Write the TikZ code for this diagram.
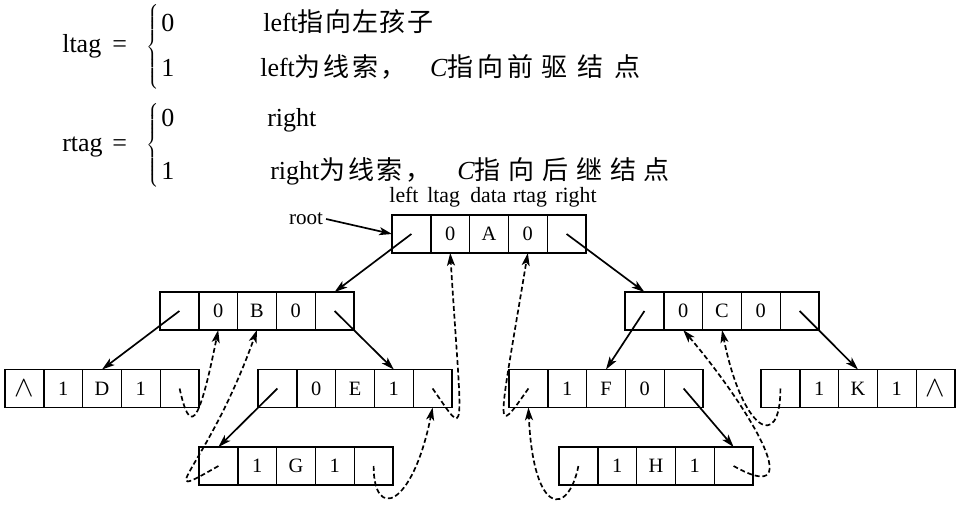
\documentclass[tikz,border=0pt]{standalone}
\usepackage{fontspec}
\setmainfont{Liberation Serif}
\newfontfamily\cjk{Noto Sans CJK SC}
\usetikzlibrary{arrows.meta,positioning}
\tikzset{
  cell/.style={draw, line width=1pt, minimum width=0.97cm, minimum height=0.95cm,
    inner sep=0pt, outer sep=0pt, font=\fontsize{14.5}{16}\selectfont},
  link/.style={-{Stealth[length=3.2mm,width=2mm,inset=0.8mm]}, line width=1.2pt},
  thread/.style={link, dash pattern=on 3.5pt off 2pt},
  formula/.style={inner sep=0pt, anchor=base west, font=\fontsize{18.5}{22}\selectfont},
  header/.style={inner sep=0pt, anchor=base, font=\fontsize{15.5}{18}\selectfont},
  bracebox/.style={inner sep=0pt, font=\fontsize{18.5}{22}\selectfont}
}
% one threaded node = five cells: left, ltag, data, rtag, right
\newcommand{\ThreadNode}[7]{%
  \node[cell, anchor=west] (#1-1) at (#2) {#3};
  \node[cell, right=0pt of #1-1] (#1-2) {#4};
  \node[cell, right=0pt of #1-2] (#1-3) {#5};
  \node[cell, right=0pt of #1-3] (#1-4) {#6};
  \node[cell, right=0pt of #1-4] (#1-5) {#7};
}
\newcommand{\Null}{{\fontsize{22}{24}\selectfont$\wedge$}}
\newcommand{\BigBrace}[1]{$\delimitershortfall=0pt\left\{\vcenter{\hbox{\rule{0pt}{#1}}}\right.$}

\begin{document}
\begin{tikzpicture}[x=1cm,y=1cm]
  \useasboundingbox (0,0) rectangle (24,12.675);

  % tag definitions
  \node[formula] (ltag) at (1.55,11.35) {ltag};
  \node[formula] (ltag-eq) at (2.8,11.35) {=};
  \node[bracebox] (ltag-brace) at (3.83,11.5) {\BigBrace{1.9cm}};
  \node[formula] (ltag-0) at (4.03,11.875) {0};
  \node[formula] (ltag-1) at (4.03,10.75) {1};
  \node[formula] (ltag-0t) at (6.575,11.875) {left{\cjk 指\hspace{0.05em}向\hspace{0.05em}左\hspace{0.05em}孩\hspace{0.05em}子}};
  \node[formula] (ltag-1t) at (6.5,10.75) {left{\cjk 为\hspace{0.1em}线\hspace{0.1em}索\hspace{0.1em}，}\hspace{0.9em}\textit{C}{\cjk 指\hspace{0.15em}向\hspace{0.15em}前\hspace{0.3em}驱\hspace{0.4em}结\hspace{0.4em}点}};

  \node[formula] (rtag) at (1.55,8.875) {rtag};
  \node[formula] (rtag-eq) at (2.8,8.875) {=};
  \node[bracebox] (rtag-brace) at (3.83,9.04) {\BigBrace{1.95cm}};
  \node[formula] (rtag-0) at (4.03,9.5) {0};
  \node[formula] (rtag-1) at (4.03,8.175) {1};
  \node[formula] (rtag-0t) at (6.675,9.5) {right};
  \node[formula] (rtag-1t) at (6.75,8.175) {right{\cjk 为\hspace{0.1em}线\hspace{0.1em}索\hspace{0.1em}，}\hspace{1em}\textit{C}{\cjk 指\hspace{0.3em}向\hspace{0.3em}后\hspace{0.3em}继\hspace{0.3em}结\hspace{0.3em}点}};

  % field names
  \node[header] (h-left) at (10.1,7.6) {left};
  \node[header] (h-ltag) at (11.09,7.6) {ltag};
  \node[header] (h-data) at (12.21,7.6) {data};
  \node[header] (h-rtag) at (13.25,7.6) {rtag};
  \node[header] (h-right) at (14.4,7.6) {right};

  % threaded tree
  \ThreadNode{A}{9.8,6.825}{}{0}{A}{0}{}
  \ThreadNode{B}{4.0,4.9}{}{0}{B}{0}{}
  \ThreadNode{C}{15.625,4.9}{}{0}{C}{0}{}
  \ThreadNode{D}{0.125,2.9625}{\Null}{1}{D}{1}{}
  \ThreadNode{E}{6.45,2.9625}{}{0}{E}{1}{}
  \ThreadNode{F}{12.725,2.9625}{}{1}{F}{0}{}
  \ThreadNode{K}{19.025,2.9625}{}{1}{K}{1}{\Null}
  \ThreadNode{G}{4.975,1.025}{}{1}{G}{1}{}
  \ThreadNode{H}{13.975,1.025}{}{1}{H}{1}{}

  \node[font=\fontsize{15}{18}\selectfont, inner sep=2pt] (root) at (7.65,7.2) {root};
  \draw[link] (root.east) -- (A-1.west);

  % child pointers
  \draw[link] (A-1.center) -- (B-5.north);
  \draw[link] (A-5.center) -- (C-1.north);
  \draw[link] (B-1.center) -- (D-3.north);
  \draw[link] (B-5.center) -- (E-4.north);
  \draw[link] (E-1.center) -- (G-1.north);
  \draw[link] (C-1.center) -- (F-3.north);
  \draw[link] (C-5.center) -- (K-3.north);
  \draw[link] (F-5.center) -- (H-5.north);

  % threads
  \draw[thread] (D-5.center) .. controls +(0.25,-1.125) and +(-0.5,-2.5) .. (B-2.south);
  \draw[thread] (G-1.center) .. controls +(-1.75,-1.0) and +(-1.25,-3.5) .. (B-3.south);
  \draw[thread] (G-5.center) .. controls +(0,-1.375) and +(-0.5,-2.5) .. (E-5.south);
  \draw[thread] (E-5.center) .. controls +(0.875,-1.25) and +(0.3,-4.75) .. (A-2.south);
  \draw[thread] (F-1.center) .. controls +(-0.875,-1.25) and +(-0.75,-4.5) .. (A-4.south);
  \draw[thread] (H-1.center) .. controls +(-0.25,-1.25) and +(0.125,-2.75) .. (F-1.south);
  \draw[thread] (H-5.center) .. controls +(2.0,-1.125) and +(1.5,-1.75) .. (C-2.south);
  \draw[thread] (K-1.center) .. controls +(0,-1.625) and +(0.5,-2.5) .. (C-3.south);
\end{tikzpicture}
\end{document}
